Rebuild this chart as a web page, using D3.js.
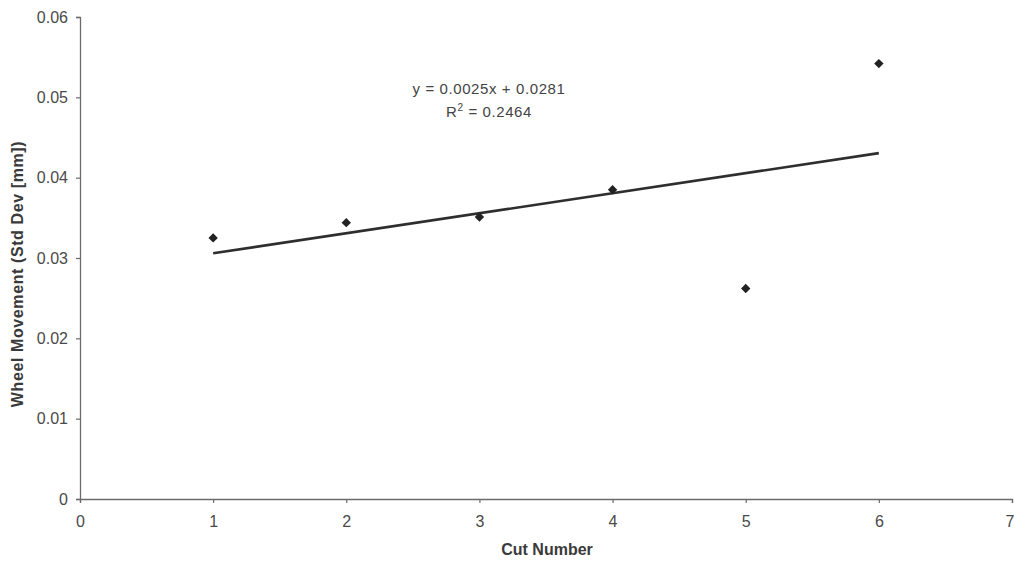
<!DOCTYPE html>
<html>
<head>
<meta charset="utf-8">
<script src="https://cdn.jsdelivr.net/npm/d3@7"></script>
<style>
  html, body { margin: 0; padding: 0; background: #fff; }
  svg { display: block; font-family: "Liberation Sans", Arial, sans-serif; }
</style>
</head>
<body>
<svg id="chart" width="1014" height="563"></svg>
<script>
// ---- data ----
const cutNumbers = [1, 2, 3, 4, 5, 6];
const wheelMovement = [0.0325, 0.0344, 0.0351, 0.0385, 0.0262, 0.0542];
const xTicks = [0, 1, 2, 3, 4, 5, 6, 7];
const yTicks = [0, 0.01, 0.02, 0.03, 0.04, 0.05, 0.06];
const xTitle = "Cut Number";
const yTitle = "Wheel Movement (Std Dev [mm])";
const equationText = "y = 0.0025x + 0.0281";
const r2Text = "0.2464";

// ---- layout ----
const svg = d3.select("#chart");
const plotLeft = 80, plotRight = 1012, plotTop = 17, plotBottom = 499;

const x = d3.scaleLinear().domain([0, 7]).range([plotLeft, plotRight]);
const y = d3.scaleLinear().domain([0, 0.06]).range([plotBottom, plotTop]);

const axisColor = "#6b6b6b";
const labelColor = "#4a4a4a";

// x axis
const gx = svg.append("g")
  .attr("transform", `translate(0,${plotBottom})`)
  .call(d3.axisBottom(x).tickValues(xTicks).tickFormat(d3.format("d")).tickSize(4).tickPadding(13));
gx.select(".domain").attr("stroke", axisColor).attr("stroke-width", 1.3);
gx.selectAll(".tick line").attr("stroke", axisColor).attr("stroke-width", 1.2);
gx.selectAll(".tick text").attr("fill", labelColor).attr("font-size", 16);
// keep the last label inside the picture
gx.selectAll(".tick text").filter(d => d === 7).attr("text-anchor", "end").attr("dx", 2);

// y axis
const gy = svg.append("g")
  .attr("transform", `translate(${plotLeft},0)`)
  .call(d3.axisLeft(y).tickValues(yTicks).tickFormat(d => d === 0 ? "0" : d3.format(".2f")(d)).tickSize(4).tickPadding(8));
gy.select(".domain").attr("stroke", axisColor).attr("stroke-width", 1.3);
gy.selectAll(".tick line").attr("stroke", axisColor).attr("stroke-width", 1.2);
gy.selectAll(".tick text").attr("fill", labelColor).attr("font-size", 16);

// axis titles
svg.append("text")
  .attr("x", 547).attr("y", 555)
  .attr("text-anchor", "middle")
  .attr("font-size", 16).attr("font-weight", "bold")
  .attr("fill", "#3a3a3a")
  .text(xTitle);

svg.append("text")
  .attr("transform", "translate(23,274) rotate(-90)")
  .attr("text-anchor", "middle")
  .attr("font-size", 16).attr("font-weight", "bold")
  .attr("letter-spacing", 0.6)
  .attr("fill", "#3a3a3a")
  .text(yTitle);

// least-squares trendline
const mx = d3.mean(cutNumbers), my = d3.mean(wheelMovement);
const slope = d3.sum(cutNumbers.map((v, i) => (v - mx) * (wheelMovement[i] - my))) /
              d3.sum(cutNumbers.map(v => (v - mx) * (v - mx)));
const intercept = my - slope * mx;
const x0 = d3.min(cutNumbers), x1 = d3.max(cutNumbers);
svg.append("path")
  .datum([x0, x1])
  .attr("d", d3.line().x(d => x(d)).y(d => y(slope * d + intercept)))
  .attr("stroke", "#2e2e2e")
  .attr("stroke-width", 2.6)
  .attr("fill", "none");

// markers (diamonds)
svg.append("g").selectAll("path")
  .data(cutNumbers.map((c, i) => [c, wheelMovement[i]]))
  .join("path")
  .attr("transform", d => `translate(${x(d[0])},${y(d[1])}) rotate(45)`)
  .attr("d", d3.symbol().type(d3.symbolSquare).size(44))
  .attr("fill", "#222");

// equation labels
svg.append("text")
  .attr("x", 489).attr("y", 94)
  .attr("text-anchor", "middle")
  .attr("font-size", 15)
  .attr("letter-spacing", 0.6)
  .attr("fill", "#444")
  .text(equationText);

const r2 = svg.append("text")
  .attr("x", 489).attr("y", 117)
  .attr("text-anchor", "middle")
  .attr("font-size", 15)
  .attr("letter-spacing", 0.6)
  .attr("fill", "#444");
r2.append("tspan").text("R");
r2.append("tspan").attr("dy", -6).attr("font-size", 10).text("2");
r2.append("tspan").attr("dy", 6).text(" = " + r2Text);
</script>
</body>
</html>
